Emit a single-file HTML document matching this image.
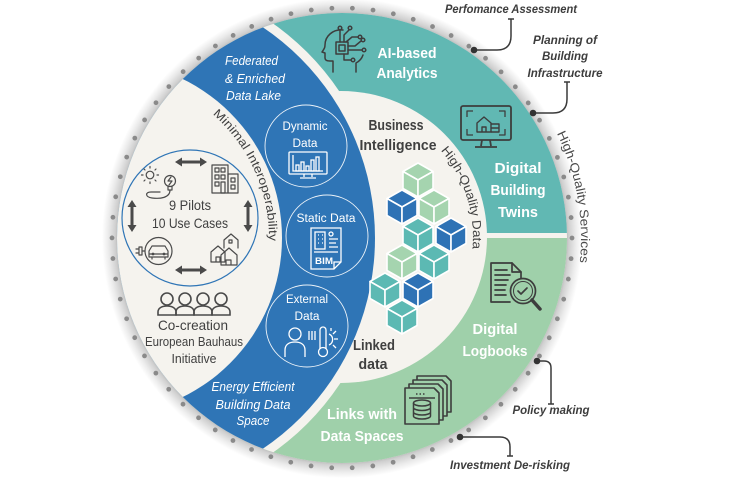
<!DOCTYPE html>
<html><head><meta charset="utf-8">
<style>
html,body{margin:0;padding:0;background:#fff;}
svg{display:block;}
text{font-family:"Liberation Sans",sans-serif;}
</style></head><body>
<svg width="741" height="486" viewBox="0 0 741 486" xmlns="http://www.w3.org/2000/svg" xmlns:xlink="http://www.w3.org/1999/xlink">
<defs>
 <radialGradient id="sh" cx="342" cy="238" r="240" gradientUnits="userSpaceOnUse">
  <stop offset="0.925" stop-color="#a8a8a8"/>
  <stop offset="0.945" stop-color="#cfcfcf"/>
  <stop offset="0.975" stop-color="#ececec"/>
  <stop offset="1" stop-color="#ffffff"/>
 </radialGradient>
 <clipPath id="disk"><circle cx="342" cy="238" r="225"/></clipPath>
 <path id="p1" d="M187,96 A164,164 0 0 1 259.1,294.1" fill="none"/>
 <path id="p2" d="M407,122.7 A132,132 0 0 1 465,282.1" fill="none"/>
 <path id="p3" d="M525.1,84.4 A239,239 0 0 1 566.6,319.7" fill="none"/>
 <g id="cb" stroke="#ffffff" stroke-width="1.6" stroke-linejoin="round">
  <path d="M0,-17 L15,-8.5 L0,0 L-15,-8.5 Z"/>
  <path d="M-15,-8.5 L0,0 L0,17 L-15,8.5 Z"/>
  <path d="M15,-8.5 L0,0 L0,17 L15,8.5 Z"/>
 </g>
</defs>

<circle cx="342" cy="238" r="240" fill="url(#sh)"/>
<circle cx="342" cy="238" r="230" fill="none" stroke="#8a8a8a" stroke-width="4.8" stroke-linecap="round" stroke-dasharray="0 20.644"/>

<g clip-path="url(#disk)">
 <rect x="0" y="0" width="741" height="486" fill="#f5f3ee"/>
 <rect x="0" y="0" width="741" height="233" fill="#61b8b3"/>
 <rect x="0" y="238" width="741" height="248" fill="#9fd0aa"/>
 <circle cx="121" cy="238" r="263" fill="#f5f3ee"/>
 <circle cx="341" cy="237" r="146" fill="#f5f3ee"/>
 <circle cx="121" cy="238" r="254" fill="#2f75b6"/>
 <circle cx="105" cy="238" r="177" fill="#f5f3ee"/>
</g>

<g fill="#ffffff" font-style="italic" font-size="12.5">
 <text x="225" y="65" textLength="53" lengthAdjust="spacingAndGlyphs">Federated</text>
 <text x="225" y="83" textLength="60" lengthAdjust="spacingAndGlyphs">&amp; Enriched</text>
 <text x="226" y="100" textLength="55" lengthAdjust="spacingAndGlyphs">Data Lake</text>
 <text x="253" y="391" text-anchor="middle" textLength="83" lengthAdjust="spacingAndGlyphs">Energy Efficient</text>
 <text x="253" y="409" text-anchor="middle" textLength="75" lengthAdjust="spacingAndGlyphs">Building Data</text>
 <text x="253" y="425" text-anchor="middle" textLength="33" lengthAdjust="spacingAndGlyphs">Space</text>
</g>

<g fill="none" stroke="#ffffff" stroke-width="0.9" opacity="0.9">
 <circle cx="306" cy="146" r="41"/>
 <circle cx="327" cy="236" r="41"/>
 <circle cx="307" cy="326" r="41"/>
</g>
<g fill="#ffffff" font-size="11.5">
 <text x="305" y="130" text-anchor="middle" textLength="45" lengthAdjust="spacingAndGlyphs">Dynamic</text>
 <text x="305" y="147" text-anchor="middle" textLength="25" lengthAdjust="spacingAndGlyphs">Data</text>
 <text x="326" y="222" text-anchor="middle" textLength="59" lengthAdjust="spacingAndGlyphs">Static Data</text>
 <text x="307" y="303" text-anchor="middle" textLength="42" lengthAdjust="spacingAndGlyphs">External</text>
 <text x="307" y="320" text-anchor="middle" textLength="25" lengthAdjust="spacingAndGlyphs">Data</text>
</g>
<g fill="none" stroke="#ffffff" stroke-width="1.3">
 <rect x="289" y="152" width="38" height="22" rx="1"/>
 <path d="M304,174 v3 M312,174 v3 M300,178 h16"/>
 <path d="M293,155 v16 h30"/>
 <rect x="296" y="165" width="3" height="6"/>
 <rect x="301" y="162" width="3" height="9"/>
 <rect x="306" y="166" width="3" height="5"/>
 <rect x="311" y="160" width="3" height="11"/>
 <rect x="316" y="157" width="3" height="14"/>
</g>
<g fill="none" stroke="#ffffff" stroke-width="1.3">
 <path d="M311,228 H341 V262 L334,269 H311 Z"/>
 <path d="M334,269 V262 H341"/>
 <rect x="315" y="232" width="10" height="17"/>
 <path d="M318,235 h1 M322,235 h1 M318,239 h1 M322,239 h1 M318,243 h1 M322,243 h1"/>
 <circle cx="331" cy="234" r="2"/>
 <path d="M329,239 h9 M329,243 h7 M329,247 h9 M314,252 h24"/>
</g>
<text x="324" y="264" text-anchor="middle" fill="#ffffff" font-size="9.5" font-weight="bold" textLength="18" lengthAdjust="spacingAndGlyphs">BIM</text>
<g fill="none" stroke="#ffffff" stroke-width="1.3">
 <circle cx="295" cy="334" r="6"/>
 <path d="M285,357 V350 C285,344 290,342 295,342 C300,342 305,344 305,350 V357"/>
 <path d="M309,331 v9 M312,331 v9 M315,331 v9"/>
 <path d="M320,349 V330 a3,3 0 0 1 6,0 V349"/>
 <circle cx="323" cy="352" r="4.5"/>
 <path d="M329,334 a6,6 0 0 1 0,11 M334,339 h4 M333,334 l3,-3 M333,345 l3,3 M331,331 v-3"/>
</g>

<text font-size="12" fill="#404040"><textPath xlink:href="#p1" href="#p1" startOffset="31.5" textLength="143" lengthAdjust="spacingAndGlyphs">Minimal Interoperability</textPath></text>

<circle cx="190" cy="218" r="68" fill="none" stroke="#2f75b6" stroke-width="1.2"/>
<g fill="#404040" font-size="14">
 <text x="190" y="210" text-anchor="middle" textLength="42" lengthAdjust="spacingAndGlyphs">9 Pilots</text>
 <text x="190" y="228" text-anchor="middle" textLength="76" lengthAdjust="spacingAndGlyphs">10 Use Cases</text>
</g>
<g fill="#4a4a4a">
 <path d="M175,162 L182,157.5 L182,160.5 L200,160.5 L200,157.5 L207,162 L200,166.5 L200,163.5 L182,163.5 L182,166.5 Z"/>
 <path d="M175,270 L182,265.5 L182,268.5 L200,268.5 L200,265.5 L207,270 L200,274.5 L200,271.5 L182,271.5 L182,274.5 Z"/>
 <path d="M132,200 L136.5,207 L133.5,207 L133.5,225 L136.5,225 L132,232 L127.5,225 L130.5,225 L130.5,207 L127.5,207 Z"/>
 <path d="M248,200 L252.5,207 L249.5,207 L249.5,225 L252.5,225 L248,232 L243.5,225 L246.5,225 L246.5,207 L243.5,207 Z"/>
</g>
<g fill="none" stroke="#4a4a4a" stroke-width="1.2" stroke-linecap="round" stroke-linejoin="round">
 <circle cx="150" cy="175" r="3.8"/>
 <path d="M150,168 v-1.5 M150,182 v1.5 M143,175 h-1.5 M157,175 h1.5 M145,170 l-1,-1 M155,170 l1,-1 M145,180 l-1,1 M155,180 l1,1"/>
 <circle cx="170" cy="181" r="5.5"/>
 <path d="M171,177 l-3,4 h4 l-3,4"/>
 <path d="M168,187 v3 h4 v-3"/>
 <path d="M170,190 C170,198 160,199 152,198 C145,197 145,192 151,192 L160,192"/>
 <rect x="212" y="165" width="16" height="28"/>
 <rect x="228" y="174" width="10" height="19"/>
 <rect x="215" y="168" width="4" height="4"/><rect x="221" y="168" width="4" height="4"/>
 <rect x="215" y="175" width="4" height="4"/><rect x="221" y="175" width="4" height="4"/>
 <rect x="215" y="182" width="4" height="4"/><rect x="221" y="182" width="4" height="11"/>
 <rect x="231" y="178" width="4" height="4"/><rect x="231" y="185" width="4" height="4"/>
 <circle cx="158.5" cy="251" r="13.5"/>
 <path d="M149,257 v-6 l3,-5 h13 l3,5 v6 z M149,254 h19 M152,257 v2 M165,257 v2"/>
 <circle cx="153" cy="254" r="0.8"/><circle cx="164" cy="254" r="0.8"/>
 <path d="M145,251 h-3 M142,247 v8 h-3 v-8 z M139,249 h-3 M139,253 h-3"/>
 <path d="M211,262 v-10 l7,-6 l7,6 v10 z M216,262 v-5 h4 v5"/>
 <path d="M224,248 v-8 l7,-6 l7,6 v8"/>
 <path d="M221,265 v-10 l8,-7 l8,7 v10 z M226,265 v-5 h5 v5"/>
 <path d="M229,240 h3 v3 h-3 z"/>
</g>

<g fill="none" stroke="#4a4a4a" stroke-width="1.6">
 <circle cx="167" cy="299" r="6"/>
 <circle cx="185" cy="299" r="6"/>
 <circle cx="203" cy="299" r="6"/>
 <circle cx="221" cy="299" r="6"/>
 <path d="M158,315 v-3 c0,-4 4,-6 9,-6 c5,0 9,2 9,6 v3 z"/>
 <path d="M176,315 v-3 c0,-4 4,-6 9,-6 c5,0 9,2 9,6 v3 z"/>
 <path d="M194,315 v-3 c0,-4 4,-6 9,-6 c5,0 9,2 9,6 v3 z"/>
 <path d="M212,315 v-3 c0,-4 4,-6 9,-6 c5,0 9,2 9,6 v3 z"/>
</g>
<g fill="#404040" text-anchor="middle">
 <text x="193" y="330" font-size="14" textLength="70" lengthAdjust="spacingAndGlyphs">Co-creation</text>
 <text x="194" y="346" font-size="12.5" textLength="98" lengthAdjust="spacingAndGlyphs">European Bauhaus</text>
 <text x="194" y="363" font-size="12.5" textLength="45" lengthAdjust="spacingAndGlyphs">Initiative</text>
</g>

<g fill="#404040" font-weight="bold" font-size="14.5" text-anchor="middle">
 <text x="396" y="130" textLength="55" lengthAdjust="spacingAndGlyphs">Business</text>
 <text x="398" y="150" textLength="77" lengthAdjust="spacingAndGlyphs">Intelligence</text>
 <text x="374" y="350" textLength="42" lengthAdjust="spacingAndGlyphs">Linked</text>
 <text x="373" y="369" textLength="29" lengthAdjust="spacingAndGlyphs">data</text>
</g>
<text font-size="12.5" fill="#404040"><textPath xlink:href="#p2" href="#p2" startOffset="43.8" textLength="106" lengthAdjust="spacingAndGlyphs">High-Quality Data</textPath></text>

<use xlink:href="#cb" href="#cb" x="418" y="180" fill="#a5d4af"/>
<use xlink:href="#cb" href="#cb" x="402" y="207" fill="#2e72b5"/>
<use xlink:href="#cb" href="#cb" x="434" y="207" fill="#a5d4af"/>
<use xlink:href="#cb" href="#cb" x="418" y="235" fill="#5cb9b3"/>
<use xlink:href="#cb" href="#cb" x="451" y="235" fill="#2e72b5"/>
<use xlink:href="#cb" href="#cb" x="402" y="262" fill="#a5d4af"/>
<use xlink:href="#cb" href="#cb" x="434" y="262" fill="#5cb9b3"/>
<use xlink:href="#cb" href="#cb" x="385" y="290" fill="#5cb9b3"/>
<use xlink:href="#cb" href="#cb" x="418" y="290" fill="#2e72b5"/>
<use xlink:href="#cb" href="#cb" x="402" y="317" fill="#5cb9b3"/>

<g fill="#ffffff" font-weight="bold" font-size="15" text-anchor="middle">
 <text x="407" y="58" textLength="59" lengthAdjust="spacingAndGlyphs">AI-based</text>
 <text x="407" y="78" textLength="61" lengthAdjust="spacingAndGlyphs">Analytics</text>
 <text x="518" y="173" textLength="47" lengthAdjust="spacingAndGlyphs">Digital</text>
 <text x="518" y="195" textLength="55" lengthAdjust="spacingAndGlyphs">Building</text>
 <text x="518" y="217" textLength="40" lengthAdjust="spacingAndGlyphs">Twins</text>
 <text x="495" y="334" textLength="45" lengthAdjust="spacingAndGlyphs">Digital</text>
 <text x="495" y="356" textLength="65" lengthAdjust="spacingAndGlyphs">Logbooks</text>
 <text x="362" y="419" textLength="70" lengthAdjust="spacingAndGlyphs">Links with</text>
 <text x="362" y="441" textLength="83" lengthAdjust="spacingAndGlyphs">Data Spaces</text>
</g>

<g fill="none" stroke="#3d3d3d" stroke-width="1.5" stroke-linecap="round" stroke-linejoin="round">
 <path d="M343,30 C333,29 325,36 325,45 C325,48 324,49 322,52 L325,53 L325,58 C325,60 327,61 330,61 L333,61 L333,72"/>
 <path d="M356,72 L356,63 C360,61 362,58 363,55"/>
 <rect x="336" y="42" width="12" height="12"/>
 <rect x="339" y="45" width="6" height="6"/>
 <path d="M340,42 V30 M344,42 V35 L349,30 M348,46 H355 L361,41 M348,50 H362 M344,54 V60 L351,60 M346,42 L352,37 L358,37"/>
 <circle cx="340" cy="28" r="1.8"/><circle cx="350" cy="28" r="1.8"/><circle cx="363" cy="40" r="1.8"/><circle cx="364" cy="50" r="1.8"/><circle cx="353" cy="60" r="1.8"/><circle cx="360" cy="37" r="1.8"/>
</g>
<g fill="none" stroke="#3d3d3d" stroke-width="1.8" stroke-linejoin="round">
 <rect x="461" y="106" width="50" height="34" rx="2"/>
 <path d="M467,117 v-6 h6 M499,111 h6 v6 M505,129 v6 h-6 M473,135 h-6 v-6" stroke-width="1.3"/>
 <path d="M482,140 l-1,6 M490,140 l1,6 M475,147 h22"/>
 <path d="M477,132 v-9 l7,-6 l7,6 v9 z M482,132 v-5 h4 v5" stroke-width="1.4"/>
 <path d="M491,124 h8 v8 h-8 M491,128 h8" stroke-width="1.4"/>
</g>
<g fill="none" stroke="#3d3d3d" stroke-width="1.7" stroke-linejoin="round" stroke-linecap="round">
 <path d="M510,302 H491 V263 H512 L521,272 V278"/>
 <path d="M512,263 V272 H521"/>
 <path d="M495,270 H507 M495,275 H510 M495,280 H508 M495,285 H506 M495,290 H505 M495,295 H506"/>
 <circle cx="523" cy="291" r="12.5"/>
 <circle cx="523" cy="291" r="9.5" stroke-width="1"/>
 <path d="M518,291 l3,3 l6,-6"/>
 <path d="M532,300 L540,309" stroke-width="3.5"/>
</g>
<g fill="#9fd0aa" stroke="#3d3d3d" stroke-width="1.6" stroke-linejoin="round">
 <path d="M417,376 H446 L451,381 V412 H417 Z"/>
 <path d="M413,380 H442 L447,385 V416 H413 Z"/>
 <path d="M409,384 H438 L443,389 V420 H409 Z"/>
 <path d="M405,388 H434 L439,393 V424 H405 Z"/>
</g>
<g fill="none" stroke="#3d3d3d" stroke-width="1.5">
 <path d="M416,394 h1.5 M419.5,394 h1.5 M423,394 h1.5 M409,398 h26"/>
 <ellipse cx="422" cy="403" rx="8.5" ry="3"/>
 <path d="M413.5,403 v13 a8.5,3 0 0 0 17,0 v-13 M413.5,407.5 a8.5,3 0 0 0 17,0 M413.5,412 a8.5,3 0 0 0 17,0"/>
</g>

<text font-size="12.5" fill="#4a4a4a"><textPath xlink:href="#p3" href="#p3" startOffset="58.4" textLength="133" lengthAdjust="spacingAndGlyphs">High-Quality Services</textPath></text>

<g fill="none" stroke="#3a3a3a" stroke-width="1.5">
 <path d="M474,50 H497 Q511,50 511,36 V19 M508,19 H514"/>
 <path d="M533,113 H553 Q567,113 567,99 V82 M564,82 H570"/>
 <path d="M537,361 H544 Q551,361 551,368 V404 M548,404 H554"/>
 <path d="M460,437 H500 Q510,437 510,447 V456 M507,456 H513"/>
</g>
<g fill="#333333">
 <circle cx="474" cy="50" r="3.3"/>
 <circle cx="533" cy="113" r="3.3"/>
 <circle cx="537" cy="361" r="3.3"/>
 <circle cx="460" cy="437" r="3.3"/>
</g>
<g fill="#3d3d3d" font-weight="bold" font-style="italic" font-size="11.5">
 <text x="445" y="13" textLength="132" lengthAdjust="spacingAndGlyphs">Perfomance Assessment</text>
 <text x="565" y="44" text-anchor="middle" textLength="64" lengthAdjust="spacingAndGlyphs">Planning of</text>
 <text x="565" y="60" text-anchor="middle" textLength="46" lengthAdjust="spacingAndGlyphs">Building</text>
 <text x="565" y="77" text-anchor="middle" textLength="75" lengthAdjust="spacingAndGlyphs">Infrastructure</text>
 <text x="551" y="414" text-anchor="middle" textLength="77" lengthAdjust="spacingAndGlyphs">Policy making</text>
 <text x="510" y="469" text-anchor="middle" textLength="120" lengthAdjust="spacingAndGlyphs">Investment De-risking</text>
</g>
</svg>
</body></html>
